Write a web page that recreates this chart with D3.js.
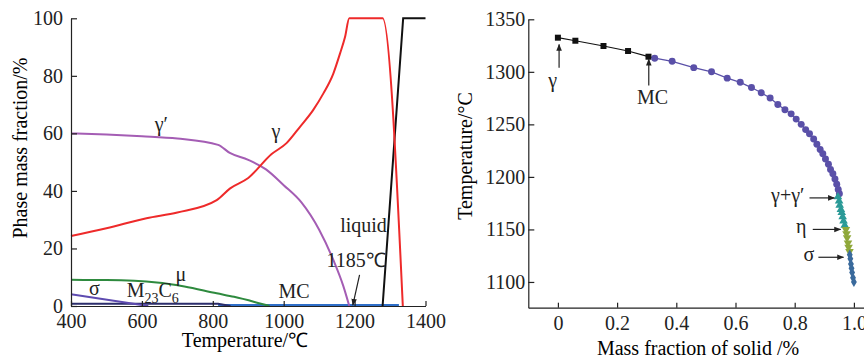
<!DOCTYPE html>
<html lang="en">
<head>
<meta charset="UTF-8">
<title>Phase fractions and solidification path</title>
<script src="https://d3js.org/d3.v7.min.js"></script>
<style>
  body { margin: 0; background: #fff; }
  .axis path, .axis line { stroke: #222; stroke-width: 1.2; }
</style>
</head>
<body>
<svg width="864" height="361"></svg>
<script>
// ---- left panel: phase mass fraction vs temperature ----
const tickTemps = [400, 600, 800, 1000, 1200, 1400];
const tickFractions = [0, 20, 40, 60, 80, 100];

const gammaPrimeT = [400, 500, 600, 700, 815, 848, 900, 950, 1000, 1050, 1100, 1140, 1168, 1185];
const gammaPrimeV = [60, 59.6, 59, 58.2, 56, 53.2, 50.8, 47.5, 42, 36, 26.5, 16, 7, 0];

const gammaT = [400, 500, 613, 700, 811, 849, 900, 966, 1008, 1046, 1083, 1112, 1140, 1159, 1173, 1185, 1279, 1336];
const gammaV = [24.3, 27, 30.5, 32.5, 36.8, 40.9, 44.5, 52.8, 56.6, 62.3, 68.1, 73.9, 80.8, 87.8, 93.5, 100, 100, 0];

const liquidT = [1279, 1337, 1400];
const liquidV = [0, 100, 100];

const muT = [400, 500, 642, 720, 811, 860, 933, 960];
const muV = [9.1, 9, 8.2, 6.8, 4.4, 3.2, 0.9, 0];

const sigmaT = [400, 618];
const sigmaV = [4.1, 0];

const m23c6T = [400, 815, 850];
const m23c6V = [0.8, 0.8, 0];

const mcT = [815, 1325];
const mcV = [0.3, 0.3];

// ---- right panel: temperature vs mass fraction of solid ----
const fracTicks = [0, 0.2, 0.4, 0.6, 0.8, 1.0];
const tempTicks = [1100, 1150, 1200, 1250, 1300, 1350];

const gammaFrac = [0, 0.059, 0.154, 0.237, 0.306];
const gammaTemp = [1332.5, 1329.6, 1324.6, 1319.8, 1314.4];

const mcFrac = [0.327, 0.386, 0.459, 0.519, 0.572, 0.616, 0.654, 0.687, 0.717, 0.743, 0.767, 0.788, 0.805, 0.822,
                0.837, 0.850, 0.864, 0.875, 0.886, 0.895, 0.904, 0.914, 0.921, 0.929, 0.936, 0.942, 0.947, 0.951];
const mcTemp = [1313, 1310, 1304, 1300, 1294, 1290, 1285, 1280, 1275, 1269, 1264, 1260, 1255, 1250,
                1245, 1241, 1236, 1231, 1226, 1222, 1217, 1212, 1207, 1203, 1198, 1193, 1188, 1184];

const ggpFrac = [0.946, 0.950, 0.952, 0.956, 0.959, 0.962, 0.965, 0.969];
const ggpTemp = [1181, 1177, 1173, 1169, 1166, 1162, 1158, 1154];

const etaFrac = [0.973, 0.975, 0.977, 0.980, 0.982, 0.985];
const etaTemp = [1150, 1146, 1142, 1137, 1133, 1129];

const sigFrac = [0.986, 0.988, 0.990, 0.992, 0.994, 0.997, 1.0];
const sigTemp = [1126, 1122, 1117, 1113, 1109, 1104, 1100];

const FONT = "'Liberation Serif', 'Times New Roman', serif";

const svg = d3.select("svg")
    .attr("font-family", FONT);

// arrow head
svg.append("defs").append("marker")
    .attr("id", "arrow")
    .attr("viewBox", "0 0 10 10")
    .attr("refX", 9).attr("refY", 5)
    .attr("markerWidth", 7).attr("markerHeight", 7)
    .attr("markerUnits", "userSpaceOnUse")
    .attr("orient", "auto")
    .append("path").attr("d", "M0,1 L10,5 L0,9 Z").attr("fill", "#222");

function zip(xs, ys) { return xs.map((x, i) => [x, ys[i]]); }

function styleAxis(g) {
    g.attr("font-family", FONT).attr("font-size", 20);
    g.selectAll("text").attr("fill", "#222");
}

// ================= LEFT =================
const xL = d3.scaleLinear().domain([400, 1400]).range([71, 425.5]);
const yL = d3.scaleLinear().domain([0, 100]).range([306, 18.3]);

const lineL = d3.line().x(d => xL(d[0])).y(d => yL(d[1]));
const smoothL = d3.line().x(d => xL(d[0])).y(d => yL(d[1])).curve(d3.curveMonotoneX);

const left = svg.append("g");

const seriesL = [
    {t: mcT, v: mcV, color: "#2f6fc9", w: 2.2, gen: lineL},
    {t: m23c6T, v: m23c6V, color: "#2b2d6b", w: 2, gen: lineL},
    {t: sigmaT, v: sigmaV, color: "#5e4bb0", w: 2, gen: lineL},
    {t: muT, v: muV, color: "#2e8a3e", w: 2, gen: smoothL},
    {t: gammaPrimeT, v: gammaPrimeV, color: "#a45db4", w: 2, gen: smoothL},
    {t: liquidT, v: liquidV, color: "#111", w: 2, gen: lineL},
    {t: gammaT, v: gammaV, color: "#ee2a2a", w: 2, gen: smoothL}
];

seriesL.forEach(s => {
    left.append("path")
        .datum(zip(s.t, s.v))
        .attr("fill", "none")
        .attr("stroke", s.color)
        .attr("stroke-width", s.w)
        .attr("d", s.gen);
});

left.append("g").attr("class", "axis")
    .attr("transform", "translate(0,306)")
    .call(d3.axisBottom(xL).tickValues(tickTemps).tickFormat(d3.format("d"))
        .tickSizeInner(-5).tickSizeOuter(0).tickPadding(8))
    .call(styleAxis);

left.append("g").attr("class", "axis")
    .attr("transform", "translate(71,0)")
    .call(d3.axisLeft(yL).tickValues(tickFractions).tickFormat(d3.format("d"))
        .tickSizeInner(-6).tickSizeOuter(0).tickPadding(8))
    .call(styleAxis);

left.append("text")
    .attr("x", 245).attr("y", 347)
    .attr("text-anchor", "middle")
    .attr("font-size", 20)
    .text("Temperature/℃");

left.append("text")
    .attr("transform", "translate(27,148) rotate(-90)")
    .attr("text-anchor", "middle")
    .attr("font-size", 20)
    .text("Phase mass fraction/%");

// phase labels
const labL = left.append("g").attr("font-size", 20).attr("fill", "#222");
labL.append("text").attr("x", xL(655)).attr("y", yL(60.8)).attr("text-anchor", "middle").text("γ′");
labL.append("text").attr("x", xL(978)).attr("y", yL(58.4)).attr("text-anchor", "middle").text("γ");
labL.append("text").attr("x", xL(1291)).attr("y", yL(25.8)).attr("text-anchor", "end").text("liquid");
labL.append("text").attr("x", xL(1288)).attr("y", yL(13.7)).attr("text-anchor", "end").text("1185℃");
labL.append("text").attr("x", xL(1029)).attr("y", yL(2.8)).attr("text-anchor", "middle").text("MC");
labL.append("text").attr("x", xL(466)).attr("y", yL(3.8)).attr("text-anchor", "middle").text("σ");
labL.append("text").attr("x", xL(710)).attr("y", yL(8.7)).attr("text-anchor", "middle").text("μ");
const m23 = labL.append("text").attr("x", xL(557)).attr("y", yL(3.2));
m23.append("tspan").text("M");
m23.append("tspan").attr("font-size", 14).attr("dy", 6).text("23");
m23.append("tspan").attr("dy", -6).text("C");
m23.append("tspan").attr("font-size", 14).attr("dy", 6).text("6");

left.append("line")
    .attr("x1", xL(1214)).attr("y1", yL(10.8))
    .attr("x2", xL(1195)).attr("y2", yL(0.3))
    .attr("stroke", "#222").attr("stroke-width", 1.2)
    .attr("marker-end", "url(#arrow)");

// ================= RIGHT =================
const xR = d3.scaleLinear().domain([-0.1, 1.05]).range([528.3, 528.3 + 296 * 1.15]);
const yR = d3.scaleLinear().domain([1075.5, 1350]).range([307.7, 19.3]);

const right = svg.append("g");
const lineR = d3.line().x(d => xR(d[0])).y(d => yR(d[1]));

// connecting lines
right.append("path")
    .datum(zip(gammaFrac, gammaTemp).concat([[mcFrac[0], mcTemp[0]]]))
    .attr("fill", "none").attr("stroke", "#111").attr("stroke-width", 1.2)
    .attr("d", lineR);
right.append("path")
    .datum(zip(mcFrac, mcTemp))
    .attr("fill", "none").attr("stroke", "#5a50a8").attr("stroke-width", 1.2)
    .attr("d", lineR);
right.append("path")
    .datum(zip(ggpFrac, ggpTemp).concat(zip(etaFrac, etaTemp), zip(sigFrac, sigTemp)))
    .attr("fill", "none").attr("stroke", "#4a7a8a").attr("stroke-width", 1)
    .attr("d", lineR);

const markerSets = [
    {f: gammaFrac, t: gammaTemp, type: d3.symbolSquare, size: 36, color: "#111", rot: 0},
    {f: mcFrac, t: mcTemp, type: d3.symbolCircle, size: 38, color: "#5a50a8", rot: 0},
    {f: ggpFrac, t: ggpTemp, type: d3.symbolTriangle, size: 32, color: "#2b9a97", rot: 0},
    {f: etaFrac, t: etaTemp, type: d3.symbolTriangle, size: 32, color: "#8fa83a", rot: 180},
    {f: sigFrac, t: sigTemp, type: d3.symbolDiamond, size: 30, color: "#3a6a9c", rot: 0}
];

markerSets.forEach(m => {
    right.append("g").selectAll("path")
        .data(zip(m.f, m.t))
        .join("path")
        .attr("transform", d => `translate(${xR(d[0])},${yR(d[1])}) rotate(${m.rot})`)
        .attr("d", d3.symbol().type(m.type).size(m.size))
        .attr("fill", m.color);
});

right.append("g").attr("class", "axis")
    .attr("transform", "translate(0,307.7)")
    .call(d3.axisBottom(xR).tickValues(fracTicks).tickFormat(d => d === 0 ? "0" : d3.format(".1f")(d))
        .tickSizeInner(-5).tickSizeOuter(0).tickPadding(8))
    .call(styleAxis);

right.append("g").attr("class", "axis")
    .attr("transform", "translate(528.3,0)")
    .call(d3.axisLeft(yR).tickValues(tempTicks).tickFormat(d3.format("d"))
        .tickSizeInner(-6).tickSizeOuter(0).tickPadding(3))
    .call(styleAxis);

right.append("text")
    .attr("x", 698).attr("y", 355)
    .attr("text-anchor", "middle")
    .attr("font-size", 20)
    .text("Mass fraction of solid /%");

right.append("text")
    .attr("transform", "translate(472,156) rotate(-90)")
    .attr("text-anchor", "middle")
    .attr("font-size", 20)
    .text("Temperature/°C");

// right annotations
const labR = right.append("g").attr("font-size", 20).attr("fill", "#222");
labR.append("text").attr("x", xR(-0.018)).attr("y", yR(1286)).attr("text-anchor", "middle").text("γ");
labR.append("text").attr("x", xR(0.32)).attr("y", yR(1269)).attr("text-anchor", "middle").text("MC");
labR.append("text").attr("x", xR(0.833)).attr("y", yR(1176)).attr("text-anchor", "end").text("γ+γ′");
labR.append("text").attr("x", xR(0.84)).attr("y", yR(1147)).attr("text-anchor", "end").text("η");
labR.append("text").attr("x", xR(0.866)).attr("y", yR(1120)).attr("text-anchor", "end").text("σ");

const arrowsR = [
    [0.004, 1304, 0.004, 1326],
    [0.307, 1287, 0.307, 1312],
    [0.850, 1180, 0.934, 1180],
    [0.861, 1150, 0.955, 1150],
    [0.88, 1123.5, 0.965, 1123.5]
];
arrowsR.forEach(a => {
    right.append("line")
        .attr("x1", xR(a[0])).attr("y1", yR(a[1]))
        .attr("x2", xR(a[2])).attr("y2", yR(a[3]))
        .attr("stroke", "#222").attr("stroke-width", 1.2)
        .attr("marker-end", "url(#arrow)");
});
</script>
</body>
</html>
